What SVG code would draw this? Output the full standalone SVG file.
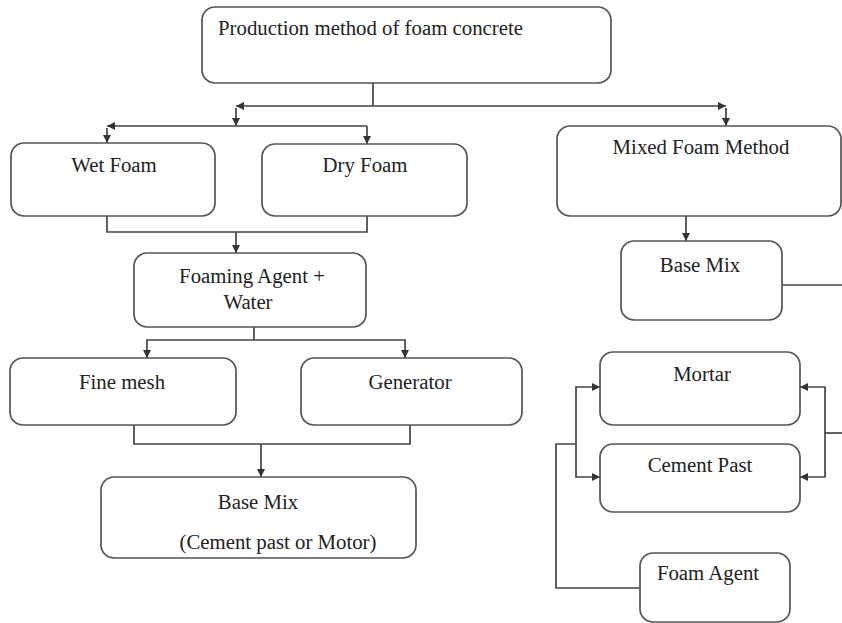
<svg xmlns="http://www.w3.org/2000/svg" width="842" height="623" viewBox="0 0 842 623">
<defs>
<marker id="arr" viewBox="0 0 10 10" refX="10" refY="5" markerWidth="8" markerHeight="8" markerUnits="userSpaceOnUse" orient="auto-start-reverse">
<path d="M0,0 L10,5 L0,10 Z" fill="#333"/>
</marker>
<style>
.box{fill:#fff;stroke:#555;stroke-width:1.7}
.ln{fill:none;stroke:#444;stroke-width:1.7}
.t{font-family:"Liberation Serif","Times New Roman",serif;font-size:20.8px;fill:#222}
.c{text-anchor:middle}
</style>
</defs>
<rect width="842" height="623" fill="#fff"/>
<g id="connectors">
<line class="ln" x1="373" y1="83" x2="373" y2="106"/>
<line class="ln" x1="236" y1="106" x2="726" y2="106" marker-start="url(#arr)" marker-end="url(#arr)"/>
<line class="ln" x1="236" y1="108" x2="236" y2="126" marker-end="url(#arr)"/>
<line class="ln" x1="726" y1="108" x2="726" y2="126" marker-end="url(#arr)"/>
<line class="ln" x1="107" y1="126" x2="367" y2="126" marker-start="url(#arr)"/>
<line class="ln" x1="107" y1="128" x2="107" y2="143" marker-end="url(#arr)"/>
<line class="ln" x1="367" y1="126" x2="367" y2="144" marker-end="url(#arr)"/>
<path class="ln" d="M107,216 V232 H367 V216"/>
<line class="ln" x1="236" y1="232" x2="236" y2="253" marker-end="url(#arr)"/>
<line class="ln" x1="254" y1="327" x2="254" y2="340"/>
<path class="ln" d="M147,358 V340 H405 V358" marker-start="url(#arr)" marker-end="url(#arr)"/>
<path class="ln" d="M134,425 V444 H410 V425"/>
<line class="ln" x1="261" y1="444" x2="261" y2="477" marker-end="url(#arr)"/>
<line class="ln" x1="686" y1="216" x2="686" y2="241" marker-end="url(#arr)"/>
<line class="ln" x1="782" y1="285" x2="842" y2="285"/>
<line class="ln" x1="842" y1="433" x2="825" y2="433"/>
<path class="ln" d="M800,387 H825 V477 H800" marker-start="url(#arr)" marker-end="url(#arr)"/>
<path class="ln" d="M600,387 H576 V477 H600" marker-start="url(#arr)" marker-end="url(#arr)"/>
<path class="ln" d="M576,444 H556 V588 H640"/>
</g>
<g id="n-production">
<rect class="box" x="202" y="7" width="409" height="76" rx="13"/>
<text class="t" x="218" y="35">Production method of foam concrete</text>
</g>
<g id="n-wet">
<rect class="box" x="11" y="143" width="204" height="73" rx="13"/>
<text class="t c" x="114" y="172">Wet Foam</text>
</g>
<g id="n-dry">
<rect class="box" x="262" y="144" width="205" height="72" rx="13"/>
<text class="t c" x="365" y="172">Dry Foam</text>
</g>
<g id="n-mixed">
<rect class="box" x="557" y="126" width="284" height="90" rx="13"/>
<text class="t c" x="701" y="154">Mixed Foam Method</text>
</g>
<g id="n-foaming">
<rect class="box" x="134" y="253" width="232" height="74" rx="13"/>
<text class="t c" x="252" y="283">Foaming Agent +</text>
<text class="t c" x="248" y="309">Water</text>
</g>
<g id="n-fine">
<rect class="box" x="10" y="358" width="226" height="67" rx="13"/>
<text class="t c" x="122" y="389">Fine mesh</text>
</g>
<g id="n-generator">
<rect class="box" x="301" y="358" width="221" height="67" rx="13"/>
<text class="t c" x="410" y="389">Generator</text>
</g>
<g id="n-basemix1">
<rect class="box" x="101" y="477" width="315" height="81" rx="13"/>
<text class="t c" x="258" y="509">Base Mix</text>
<text class="t c" x="278" y="549">(Cement past or Motor)</text>
</g>
<g id="n-basemix2">
<rect class="box" x="621" y="241" width="161" height="79" rx="13"/>
<text class="t c" x="700" y="272">Base Mix</text>
</g>
<g id="n-mortar">
<rect class="box" x="600" y="352" width="200" height="73" rx="13"/>
<text class="t c" x="702" y="381">Mortar</text>
</g>
<g id="n-cement">
<rect class="box" x="600" y="444" width="200" height="68" rx="13"/>
<text class="t c" x="700" y="472">Cement Past</text>
</g>
<g id="n-foamagent">
<rect class="box" x="640" y="553" width="150" height="69" rx="13"/>
<text class="t c" x="708" y="580">Foam Agent</text>
</g>
</svg>
